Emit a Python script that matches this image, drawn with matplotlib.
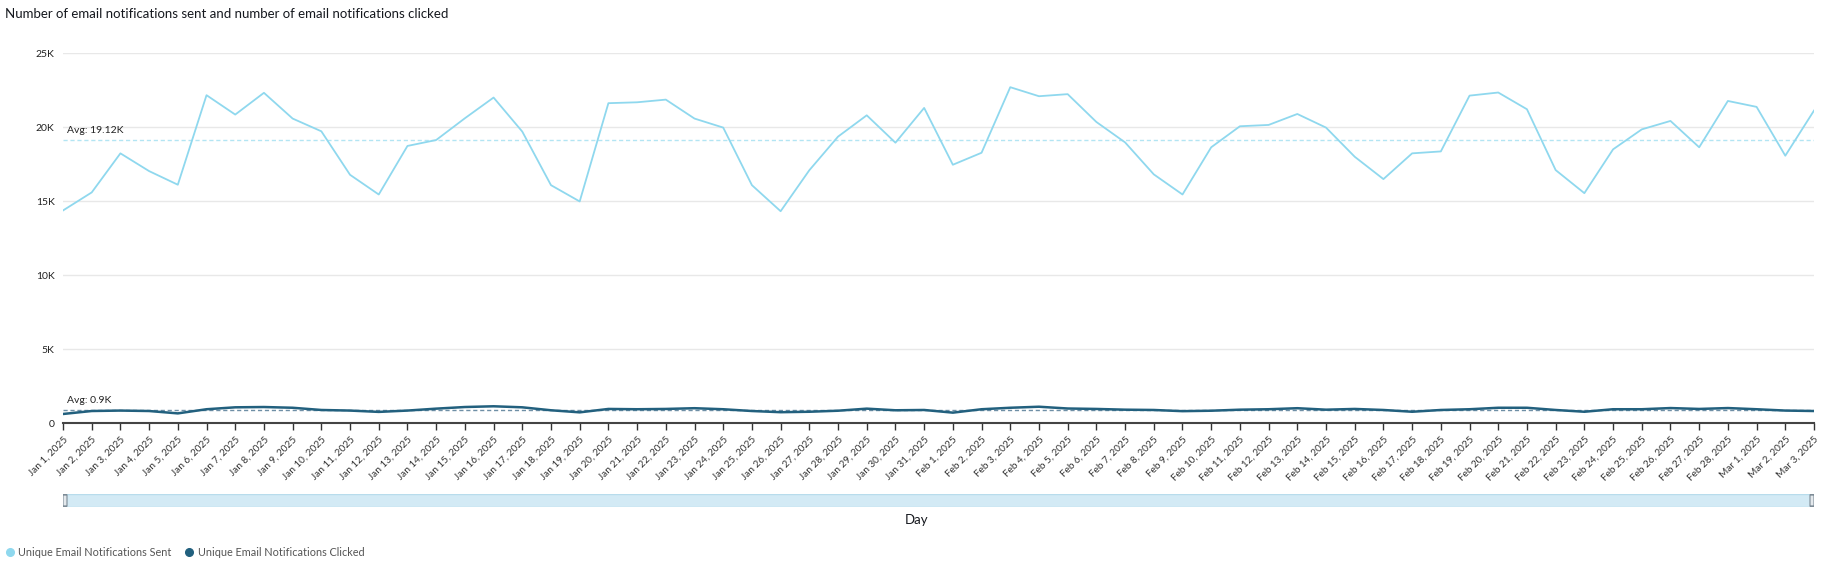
import matplotlib
matplotlib.use("Agg")
import matplotlib.pyplot as plt
import numpy as np
import pandas as pd
from matplotlib.lines import Line2D
from matplotlib.patches import Rectangle, FancyBboxPatch

plt.rcParams['font.family'] = ['Lato', 'DejaVu Sans']

# giorni (categorie asse x)
days = pd.date_range('2025-01-01', '2025-03-03', freq='D')
day_labels = [f"{d:%b} {d.day}, {d.year}" for d in days]

# notifiche inviate
sent = [14380, 15600, 18240, 17040, 16120, 22170, 20860, 22330, 20590, 19730,
        16790, 15460, 18740, 19140, 20610, 22010, 19710, 16090, 14990, 21630,
        21690, 21870, 20590, 19980, 16090, 14330, 17100, 19370, 20810, 18960,
        21310, 17470, 18280, 22710, 22100, 22240, 20360, 18980, 16820, 15460,
        18650, 20070, 20160, 20900, 19980, 18010, 16500, 18240, 18370, 22140,
        22350, 21220, 17110, 15550, 18510, 19860, 20430, 18650, 21780, 21380,
        18080, 21130]

# notifiche cliccate
clicked = [630, 830, 860, 830, 670, 950, 1080, 1100, 1050, 900,
           860, 770, 860, 990, 1100, 1150, 1080, 880, 740, 970,
           950, 970, 1020, 950, 830, 750, 780, 850, 990, 880,
           900, 720, 950, 1050, 1120, 1000, 970, 920, 900, 820,
           850, 920, 950, 1020, 920, 970, 900, 780, 900, 950,
           1050, 1050, 900, 780, 950, 950, 1030, 970, 1030, 950,
           860, 830]

avg_sent = 19120
avg_clicked = 900

yticks = [0, 5000, 10000, 15000, 20000, 25000]
ytick_labels = ['0', '5K', '10K', '15K', '20K', '25K']

W, H = 1827, 575
fig = plt.figure(figsize=(W / 100, H / 100), dpi=100)

left, right = 63 / W, 1814 / W
top, bottom = 53.3 / H, 423.3 / H
ax = fig.add_axes([left, 1 - bottom, right - left, bottom - top])

x = np.arange(len(days))
ax.plot(x, sent, color='#8fd8ee', lw=1.3, zorder=3)
ax.plot(x, clicked, color='#22607e', lw=1.8, zorder=4, solid_joinstyle='round')

ax.axhline(avg_sent, color='#b3e5f3', lw=1.0, ls=(0, (3, 2)), zorder=2)
ax.axhline(avg_clicked, color='#6f8fa6', lw=1.0, ls=(0, (3, 2)), zorder=3)
ax.text(4 / 28.7, avg_sent + 650, 'Avg: 19.12K', fontsize=7.5, color='#222222', va='center')
ax.text(4 / 28.7, avg_clicked + 610, 'Avg: 0.9K', fontsize=7.5, color='#222222', va='center')

ax.set_xlim(0, len(days) - 1)
ax.set_ylim(0, 25000)
ax.set_yticks(yticks)
ax.set_yticklabels(ytick_labels, fontsize=7.5, color='#222222')
ax.tick_params(axis='y', length=0, pad=6)
ax.yaxis.grid(True, color='#e8e8e8', lw=1.0)
ax.set_axisbelow(True)

ax.set_xticks(x)
ax.set_xticklabels(day_labels, rotation=45, ha='right', va='top',
                   rotation_mode='anchor', fontsize=7.2, color='#333333')
ax.tick_params(axis='x', length=5, width=1, color='#333333', pad=3)

for s in ['top', 'right', 'left']:
    ax.spines[s].set_visible(False)
ax.spines['bottom'].set_color('#444444')
ax.spines['bottom'].set_linewidth(1.5)
ax.spines['bottom'].set_zorder(5)

# titolo
fig.text(5 / W, 1 - 14 / H, 'Number of email notifications sent and number of email notifications clicked',
         fontsize=9.5, color='#16191f', va='center', ha='left')

# barra di scorrimento
sax = fig.add_axes([left, 1 - 507 / H, right - left, 13 / H])
sax.set_xlim(0, 1)
sax.set_ylim(0, 1)
sax.axis('off')
sax.add_patch(Rectangle((0, 0), 1, 1, facecolor='#d3eaf5', edgecolor='#b8dcec', lw=1))
hw = 4 / (1814 - 63)
for hx in [0, 1 - hw]:
    sax.add_patch(FancyBboxPatch((hx, 0.05), hw, 0.9, boxstyle='round,pad=0,rounding_size=0.002',
                                 facecolor='#e3e8ec', edgecolor='#7d8b96', lw=0.8, zorder=3))

fig.text(917 / W, 1 - 520 / H, 'Day', fontsize=9.5, color='#16191f', ha='center', va='center')

# legenda
handles = [Line2D([], [], marker='o', ls='', color='#8fd8ee', markersize=5.5),
           Line2D([], [], marker='o', ls='', color='#22607e', markersize=5.5)]
fig.legend(handles, ['Unique Email Notifications Sent', 'Unique Email Notifications Clicked'],
           loc='center left', bbox_to_anchor=(0, 1 - 552 / H), ncol=2, frameon=False,
           fontsize=7.8, handletextpad=0.3, columnspacing=1.1, borderaxespad=0,
           handlelength=1.0, labelcolor='#555555')

fig.savefig('out.png', dpi=100)
